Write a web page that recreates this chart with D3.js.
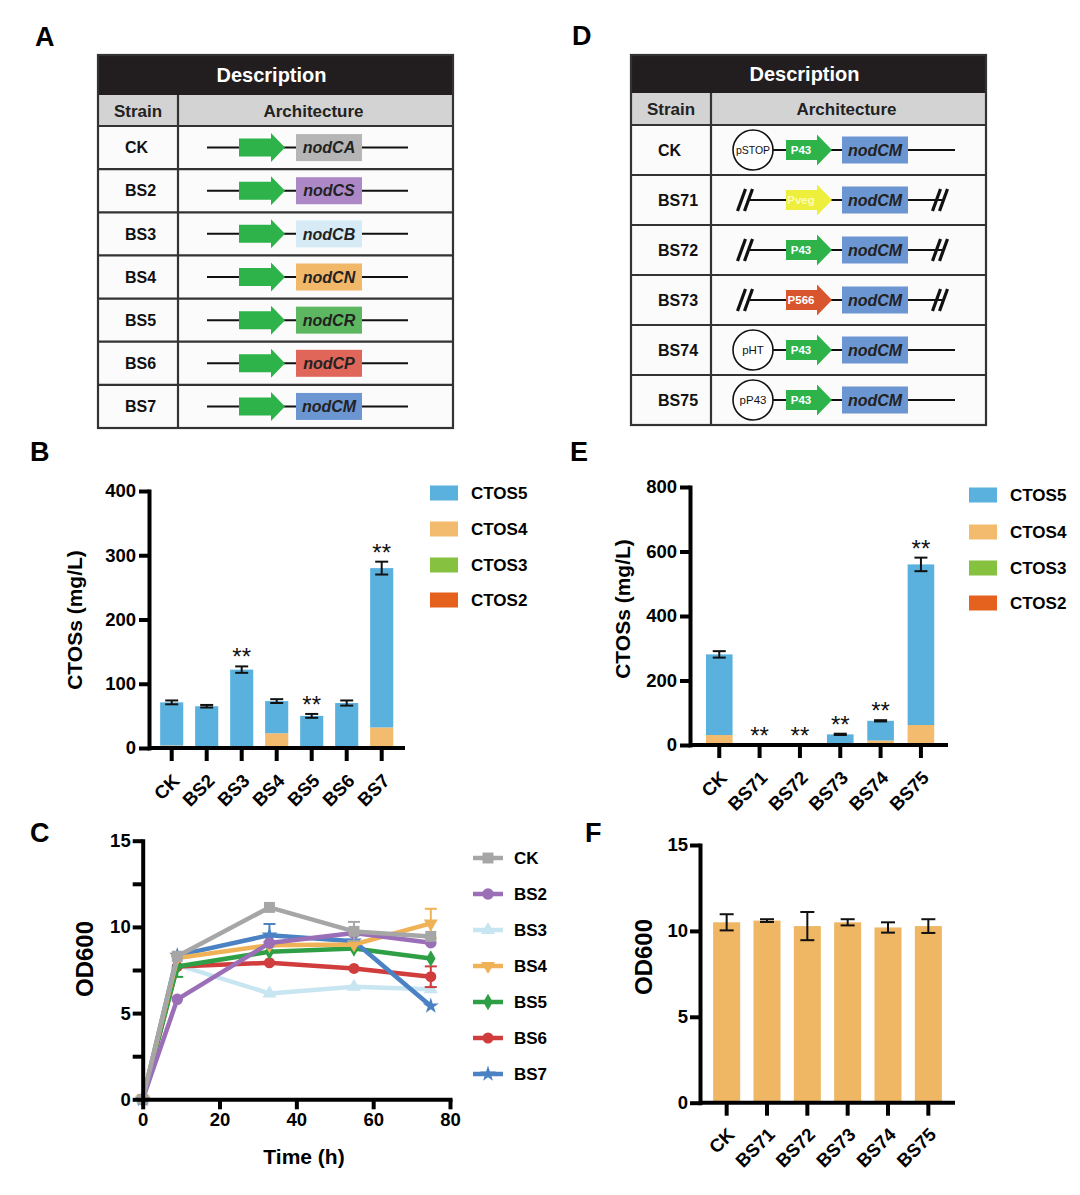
<!DOCTYPE html>
<html><head><meta charset="utf-8">
<script src="https://cdn.jsdelivr.net/npm/d3@7"></script>
<style>
body{margin:0;background:#fff;}
svg{display:block;font-family:Arial,"Liberation Sans",sans-serif;}
</style></head><body>
<svg id="fig" width="1080" height="1195"></svg>
<script>
// ---------------- DATA ----------------
// Panel A table
const strainsA = ["CK","BS2","BS3","BS4","BS5","BS6","BS7"];
const genesA = ["nodCA","nodCS","nodCB","nodCN","nodCR","nodCP","nodCM"];
const geneColorsA = ["#b5b5b5","#ad88c6","#d6ebf6","#f2b86a","#5db760","#e0665a","#6c96d1"];
// Panel D table
const strainsD = ["CK","BS71","BS72","BS73","BS74","BS75"];
const plasmidsD = ["pSTOP","","","","pHT","pP43"];
const promotersD = ["P43","Pveg","P43","P566","P43","P43"];
const promoterColorsD = ["#2db34a","#eeee3c","#2db34a","#d9552e","#2db34a","#2db34a"];
const geneD = "nodCM";
// Panel B
const categoriesB = ["CK","BS2","BS3","BS4","BS5","BS6","BS7"];
const ctos5B = [67,65,122,50,50,70,248];
const ctos4B = [4,0,0,23,0,0,32];
const ctos3B = [0,0,0,0,0,0,0];
const ctos2B = [0,0,0,0,0,0,0];
const errB = [3,2,5,3,3,4,10];
const sigB = ["","","**","","**","","**"];
const ticksB = [0,100,200,300,400];
// Panel E
const categoriesE = ["CK","BS71","BS72","BS73","BS74","BS75"];
const ctos5E = [250,0,0,33,61,498];
const ctos4E = [31,0,0,0,14,62];
const ctos3E = [0,0,0,0,0,0];
const ctos2E = [0,0,0,0,0,0];
const errE = [10,0,0,2,2,21];
const sigE = ["","**","**","**","**","**"];
const ticksE = [0,200,400,600,800];
const legendKeys = ["CTOS5","CTOS4","CTOS3","CTOS2"];
const legendColors = ["#5ab1de","#f2bb6e","#86c13f","#e4621e"];
// Panel C
const timeC = [0,9,33,55,75];
const seriesC = ["CK","BS2","BS3","BS4","BS5","BS6","BS7"];
const odCK  = [0,8.30,11.13,9.74,9.45];
const odBS2 = [0,5.80,9.06,9.64,9.08];
const odBS3 = [0,7.80,6.14,6.53,6.38];
const odBS4 = [0,8.20,8.94,8.98,10.20];
const odBS5 = [0,7.70,8.56,8.75,8.17];
const odBS6 = [0,7.70,7.92,7.59,7.11];
const odBS7 = [0,8.35,9.52,9.17,5.41];
const errCK  = [0,0,0,0.55,0];
const errBS2 = [0,0,0,0,0];
const errBS3 = [0,0,0,0,0];
const errBS4 = [0,0,0,0,0.85];
const errBS5 = [0,0.6,0,0,0];
const errBS6 = [0,0,0,0,0.6];
const errBS7 = [0,0,0.65,0,0];
const ticksCx = [0,20,40,60,80];
const ticksCy = [0,2.5,5,7.5,10,12.5,15];
// Panel F
const categoriesF = ["CK","BS71","BS72","BS73","BS74","BS75"];
const odF = [10.50,10.60,10.28,10.50,10.20,10.28];
const errF = [0.47,0.08,0.82,0.18,0.30,0.40];
const ticksF = [0,5,10,15];

// ---------------- DRAWING ----------------
const FONT = "Arial, 'Liberation Sans', sans-serif";
const svg = d3.select("#fig");

function panelLabel(t,x,y){
  svg.append("text").attr("x",x).attr("y",y).attr("font-size",27).attr("font-weight","bold").text(t);
}
function styleAxis(g,w){
  g.attr("font-family",FONT);
  g.selectAll("path.domain").attr("stroke","#000").attr("stroke-width",w).attr("stroke-linecap","square");
  g.selectAll(".tick line").attr("stroke","#000").attr("stroke-width",w);
  g.selectAll(".tick text").attr("fill","#000").attr("font-size",18.5).attr("font-weight","bold");
}

// ---------- Tables ----------
function arrowPath(x0,x1,head,bodyH,headH,cy){
  const xb = x1-head;
  return `M${x0},${cy-bodyH/2}H${xb}V${cy-headH/2}L${x1},${cy}L${xb},${cy+headH/2}V${cy+bodyH/2}H${x0}Z`;
}
function tableFrame(c){
  const g = svg.append("g");
  g.append("rect").attr("x",c.left).attr("y",c.top).attr("width",c.right-c.left).attr("height",c.headB-c.top).attr("fill","#221e1f");
  g.append("rect").attr("x",c.left).attr("y",c.headB).attr("width",c.right-c.left).attr("height",c.subB-c.headB).attr("fill","#d3d3d3");
  g.append("rect").attr("x",c.left).attr("y",c.subB).attr("width",c.right-c.left).attr("height",c.bottom-c.subB).attr("fill","#fbfbfb");
  g.append("text").attr("x",(c.left+c.right)/2-4).attr("y",(c.top+c.headB)/2).attr("dy","0.36em")
    .attr("text-anchor","middle").attr("fill","#fff").attr("font-size",20).attr("font-weight","bold").text("Description");
  g.append("text").attr("x",(c.left+c.divider)/2).attr("y",(c.headB+c.subB)/2).attr("dy","0.36em")
    .attr("text-anchor","middle").attr("fill","#222").attr("font-size",17).attr("font-weight","bold").text("Strain");
  g.append("text").attr("x",(c.divider+c.right)/2-2).attr("y",(c.headB+c.subB)/2).attr("dy","0.36em")
    .attr("text-anchor","middle").attr("fill","#222").attr("font-size",17).attr("font-weight","bold").text("Architecture");
  const rows = c.rowScale;
  g.selectAll("line.rowline").data(rows.domain()).join("line")
    .attr("x1",c.left).attr("x2",c.right).attr("y1",d=>rows(d)).attr("y2",d=>rows(d))
    .attr("stroke","#333").attr("stroke-width",2.2);
  g.append("line").attr("x1",c.divider).attr("x2",c.divider).attr("y1",c.headB).attr("y2",c.bottom).attr("stroke","#333").attr("stroke-width",2.2);
  g.append("rect").attr("x",c.left).attr("y",c.top).attr("width",c.right-c.left).attr("height",c.bottom-c.top)
    .attr("fill","none").attr("stroke","#333").attr("stroke-width",2.2);
  g.selectAll("text.strain").data(rows.domain()).join("text").attr("class","strain")
    .attr("x",c.labelX).attr("y",d=>rows(d)+rows.bandwidth()/2).attr("dy","0.36em")
    .attr("font-size",16).attr("font-weight","bold").attr("fill","#111").text(d=>d);
  return g;
}

// Table A
const rowsA = d3.scaleBand().domain(strainsA).range([126,428]);
const gA = tableFrame({left:98,right:453,top:55,headB:95,subB:126,bottom:428,divider:178,labelX:125,rowScale:rowsA});
strainsA.forEach((s,i)=>{
  const cy = rowsA(s)+rowsA.bandwidth()/2;
  gA.append("line").attr("x1",207).attr("x2",408).attr("y1",cy).attr("y2",cy).attr("stroke","#111").attr("stroke-width",2);
  gA.append("path").attr("d",arrowPath(239,285,14,18,29,cy)).attr("fill","#2db34a");
  gA.append("rect").attr("x",296).attr("y",cy-13.5).attr("width",66).attr("height",27).attr("fill",geneColorsA[i]);
  gA.append("text").attr("x",329).attr("y",cy).attr("dy","0.36em").attr("text-anchor","middle")
    .attr("font-size",16).attr("font-weight","bold").attr("font-style","italic").attr("fill","#222").text(genesA[i]);
});

// Table D
const rowsD = d3.scaleBand().domain(strainsD).range([125,425]);
const gD = tableFrame({left:631,right:986,top:55,headB:93,subB:125,bottom:425,divider:711,labelX:658,rowScale:rowsD});
strainsD.forEach((s,i)=>{
  const cy = rowsD(s)+rowsD.bandwidth()/2;
  if(plasmidsD[i]){
    gD.append("line").attr("x1",772).attr("x2",955).attr("y1",cy).attr("y2",cy).attr("stroke","#111").attr("stroke-width",2);
    gD.append("circle").attr("cx",753).attr("cy",cy).attr("r",20).attr("fill","#fff").attr("stroke","#111").attr("stroke-width",1.6);
    gD.append("text").attr("x",753).attr("y",cy).attr("dy","0.36em").attr("text-anchor","middle")
      .attr("font-size",plasmidsD[i].length>4?10.5:11.5).attr("fill","#111").text(plasmidsD[i]);
  } else {
    gD.append("line").attr("x1",750).attr("x2",942).attr("y1",cy).attr("y2",cy).attr("stroke","#111").attr("stroke-width",2);
    [745,940].forEach(sx=>{
      [-3.5,3.5].forEach(o=>{
        gD.append("line").attr("x1",sx+o-4).attr("y1",cy+11).attr("x2",sx+o+4).attr("y2",cy-11)
          .attr("stroke","#111").attr("stroke-width",3.2);
      });
    });
  }
  gD.append("path").attr("d",arrowPath(786,832,15,20,31,cy)).attr("fill",promoterColorsD[i]);
  gD.append("text").attr("x",801).attr("y",cy).attr("dy","0.36em").attr("text-anchor","middle")
    .attr("font-size",11.5).attr("font-weight","bold").attr("fill", promotersD[i]==="Pveg" ? "#fbfbb5" : "#fff").text(promotersD[i]);
  gD.append("rect").attr("x",842).attr("y",cy-13.5).attr("width",66).attr("height",27).attr("fill","#6c96d1");
  gD.append("text").attr("x",875).attr("y",cy).attr("dy","0.36em").attr("text-anchor","middle")
    .attr("font-size",16).attr("font-weight","bold").attr("font-style","italic").attr("fill","#222").text(geneD);
});

// ---------- Stacked bar charts ----------
function stackedChart(c){
  const g = svg.append("g");
  const x = d3.scaleBand().domain(c.cats).range(c.xRange).paddingInner(0.34).paddingOuter(0.17);
  const y = d3.scaleLinear().domain(c.yDomain).range(c.yRange);
  const keys = ["CTOS2","CTOS3","CTOS4","CTOS5"];
  const rows = c.cats.map((cat,i)=>({cat, CTOS2:c.l2[i], CTOS3:c.l3[i], CTOS4:c.l4[i], CTOS5:c.l5[i]}));
  const colorOf = d3.scaleOrdinal().domain(legendKeys).range(legendColors);
  const stacked = d3.stack().keys(keys)(rows);
  g.selectAll("g.layer").data(stacked).join("g").attr("fill",d=>colorOf(d.key))
    .selectAll("rect").data(d=>d).join("rect")
    .attr("x",d=>x(d.data.cat)).attr("width",x.bandwidth())
    .attr("y",d=>y(d[1])).attr("height",d=>y(d[0])-y(d[1]));
  const totals = rows.map(r=>keys.reduce((a,k)=>a+r[k],0));
  c.cats.forEach((cat,i)=>{
    if(c.err[i]>0){
      const cx = x(cat)+x.bandwidth()/2, t=totals[i], e=c.err[i];
      g.append("line").attr("x1",cx).attr("x2",cx).attr("y1",y(t-e)).attr("y2",y(t+e)).attr("stroke","#111").attr("stroke-width",2);
      [t-e,t+e].forEach(v=>g.append("line").attr("x1",cx-6.5).attr("x2",cx+6.5).attr("y1",y(v)).attr("y2",y(v)).attr("stroke","#111").attr("stroke-width",2));
    }
    if(c.sig[i]){
      g.append("text").attr("x",x(cat)+x.bandwidth()/2).attr("y",y(totals[i]+c.err[i])-1)
        .attr("text-anchor","middle").attr("font-size",24).attr("fill","#111").text(c.sig[i]);
    }
  });
  const ya = g.append("g").attr("transform",`translate(${c.axisX},0)`)
    .call(d3.axisLeft(y).tickValues(c.yTicks).tickSize(10).tickPadding(3).tickSizeOuter(0));
  styleAxis(ya,4);
  const xa = g.append("g").attr("transform",`translate(0,${c.yRange[0]})`)
    .call(d3.axisBottom(x).tickSize(13).tickSizeOuter(0));
  xa.select("path.domain").remove();
  styleAxis(xa,4);
  xa.selectAll(".tick text").attr("x",0).attr("y",0).attr("dy",null).attr("text-anchor","end")
    .attr("transform","translate(9,34) rotate(-45)").attr("font-size",18.5);
  g.append("line").attr("x1",c.axisX).attr("x2",c.xEnd).attr("y1",y(0)).attr("y2",y(0)).attr("stroke","#000").attr("stroke-width",4);
  g.append("text").attr("transform",`translate(${c.titleX},${c.titleY}) rotate(-90)`).attr("text-anchor","middle")
    .attr("font-size",21).attr("font-weight","bold").text("CTOSs (mg/L)");
  // legend
  const lg = g.append("g");
  legendKeys.forEach((k,i)=>{
    const ly = c.legY[i];
    lg.append("rect").attr("x",c.legX).attr("y",ly-7.5).attr("width",28).attr("height",15).attr("fill",colorOf(k));
    lg.append("text").attr("x",c.legX+41).attr("y",ly).attr("dy","0.36em").attr("font-size",17).attr("font-weight","bold").text(k);
  });
}

stackedChart({cats:categoriesB,l5:ctos5B,l4:ctos4B,l3:ctos3B,l2:ctos2B,err:errB,sig:sigB,
  xRange:[154.2,399.2],yDomain:[0,400],yRange:[748,491],yTicks:ticksB,axisX:149,xEnd:405,
  titleX:82,titleY:620,legX:430,legY:[493,529,565,600]});
stackedChart({cats:categoriesE,l5:ctos5E,l4:ctos4E,l3:ctos3E,l2:ctos2E,err:errE,sig:sigE,
  xRange:[699.1,941.1],yDomain:[0,800],yRange:[745,487],yTicks:ticksE,axisX:690,xEnd:948,
  titleX:630,titleY:609,legX:969,legY:[495,532,568,603]});

// ---------- Panel C line chart ----------
(function(){
  const g = svg.append("g");
  const x = d3.scaleLinear().domain([0,80]).range([142.7,450]);
  const y = d3.scaleLinear().domain([0,15]).range([1099.3,840.7]);
  const values = [odCK,odBS2,odBS3,odBS4,odBS5,odBS6,odBS7];
  const errs = [errCK,errBS2,errBS3,errBS4,errBS5,errBS6,errBS7];
  const colors = ["#a6a6a6","#9b6fb7","#c7e6f1","#f0b257","#2f9f45","#d13c3d","#4a82c3"];
  const symbols = [d3.symbolSquare,d3.symbolCircle,d3.symbolTriangle,d3.symbolTriangle,d3.symbolDiamond,d3.symbolCircle,d3.symbolStar];
  const rot = [0,0,0,180,0,0,0];
  const sizes = [120,105,85,85,80,95,80];
  const line = d3.line().x(d=>x(d.t)).y(d=>y(d.v));
  const order = [2,5,4,6,3,1,0];
  order.forEach(i=>{
    const pts = timeC.map((t,j)=>({t,v:values[i][j],e:errs[i][j]}));
    const s = g.append("g");
    pts.forEach(p=>{
      if(p.e>0){
        s.append("line").attr("x1",x(p.t)).attr("x2",x(p.t)).attr("y1",y(p.v-p.e)).attr("y2",y(p.v+p.e)).attr("stroke",colors[i]).attr("stroke-width",2);
        [p.v-p.e,p.v+p.e].forEach(v=>s.append("line").attr("x1",x(p.t)-6).attr("x2",x(p.t)+6).attr("y1",y(v)).attr("y2",y(v)).attr("stroke",colors[i]).attr("stroke-width",2));
      }
    });
    s.append("path").datum(pts).attr("d",line).attr("fill","none").attr("stroke",colors[i]).attr("stroke-width",4.5).attr("stroke-linejoin","round");
    s.selectAll("path.m").data(pts).join("path").attr("class","m")
      .attr("d",d3.symbol().type(symbols[i]).size(sizes[i]))
      .attr("transform",d=>`translate(${x(d.t)},${y(d.v)}) rotate(${rot[i]})`).attr("fill",colors[i]);
  });
  const ya = g.append("g").attr("transform","translate(142.7,0)")
    .call(d3.axisLeft(y).tickValues(ticksCy).tickFormat(d=>d%5===0?d:"").tickSize(10).tickPadding(2).tickSizeOuter(0));
  styleAxis(ya,4);
  const xa = g.append("g").attr("transform","translate(0,1099.3)")
    .call(d3.axisBottom(x).tickValues(ticksCx).tickSize(10).tickPadding(4).tickSizeOuter(0));
  styleAxis(xa,4);
  g.append("text").attr("transform","translate(93,959) rotate(-90)").attr("text-anchor","middle")
    .attr("font-size",24).attr("font-weight","bold").text("OD600");
  g.append("text").attr("x",304).attr("y",1164).attr("text-anchor","middle")
    .attr("font-size",21).attr("font-weight","bold").text("Time (h)");
  const legY = d3.scalePoint().domain(seriesC).range([858,1074]);
  seriesC.forEach((n,i)=>{
    const ly = legY(n);
    g.append("line").attr("x1",473).attr("x2",503).attr("y1",ly).attr("y2",ly).attr("stroke",colors[i]).attr("stroke-width",4.5);
    g.append("path").attr("d",d3.symbol().type(symbols[i]).size(sizes[i]))
      .attr("transform",`translate(488,${ly}) rotate(${rot[i]})`).attr("fill",colors[i]);
    g.append("text").attr("x",514).attr("y",ly).attr("dy","0.36em").attr("font-size",17).attr("font-weight","bold").text(n);
  });
})();

// ---------- Panel F bar chart ----------
(function(){
  const g = svg.append("g");
  const x = d3.scaleBand().domain(categoriesF).range([706.5,948.5]).paddingInner(0.33).paddingOuter(0.165);
  const y = d3.scaleLinear().domain([0,15]).range([1102.7,845]);
  g.selectAll("rect").data(categoriesF).join("rect")
    .attr("x",d=>x(d)).attr("width",x.bandwidth())
    .attr("y",(d,i)=>y(odF[i])).attr("height",(d,i)=>y(0)-y(odF[i])).attr("fill","#efb664");
  categoriesF.forEach((c,i)=>{
    const cx = x(c)+x.bandwidth()/2;
    g.append("line").attr("x1",cx).attr("x2",cx).attr("y1",y(odF[i]-errF[i])).attr("y2",y(odF[i]+errF[i])).attr("stroke","#111").attr("stroke-width",2);
    [odF[i]-errF[i],odF[i]+errF[i]].forEach(v=>g.append("line").attr("x1",cx-7).attr("x2",cx+7).attr("y1",y(v)).attr("y2",y(v)).attr("stroke","#111").attr("stroke-width",2));
  });
  const ya = g.append("g").attr("transform","translate(700,0)")
    .call(d3.axisLeft(y).tickValues(ticksF).tickSize(10).tickPadding(2).tickSizeOuter(0));
  styleAxis(ya,4);
  const xa = g.append("g").attr("transform","translate(0,1102.7)")
    .call(d3.axisBottom(x).tickSize(13).tickSizeOuter(0));
  xa.select("path.domain").remove();
  styleAxis(xa,4);
  xa.selectAll(".tick text").attr("x",0).attr("y",0).attr("dy",null).attr("text-anchor","end")
    .attr("transform","translate(9,33) rotate(-45)");
  g.append("line").attr("x1",700).attr("x2",955).attr("y1",y(0)).attr("y2",y(0)).attr("stroke","#000").attr("stroke-width",4);
  g.append("text").attr("transform","translate(652,957) rotate(-90)").attr("text-anchor","middle")
    .attr("font-size",24).attr("font-weight","bold").text("OD600");
})();

panelLabel("A",35,46);
panelLabel("B",30,461);
panelLabel("C",30,842);
panelLabel("D",572,45);
panelLabel("E",570,461);
panelLabel("F",585,842);
</script>
</body></html>
